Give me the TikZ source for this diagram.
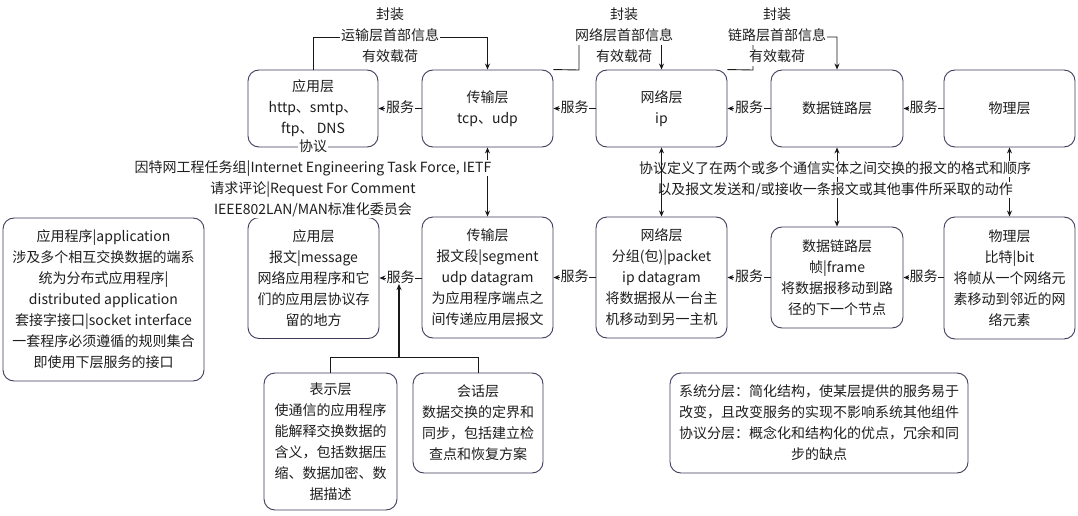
\documentclass[tikz,border=0pt]{standalone}
\usepackage{fontspec}
\setmainfont{Noto Sans CJK SC}
\usetikzlibrary{arrows.meta}
\definecolor{boxc}{RGB}{62,62,92}
\definecolor{txt}{RGB}{30,30,30}
\definecolor{linec}{RGB}{25,25,25}
\newcommand\myfs{\fontsize{14}{21}\selectfont}
\begin{document}
\begin{tikzpicture}[x=1pt,y=-1pt,
  box/.style={draw=boxc, line width=0.9pt, rounded corners=11pt, align=center, inner sep=0pt, text=txt, font=\myfs},
  lbl/.style={fill=white, inner sep=0.6pt, text=txt, font=\myfs, text height=11pt, text depth=3pt},
  conn/.style={draw=linec, line width=0.9pt},
  >={Stealth[length=6pt,width=5pt]}]
\fill[white] (0,0) rectangle (1078,516);
\useasboundingbox (0,0) rectangle (1078,516);

% top row
\node[box, minimum width=130pt, minimum height=77pt] (A1) at (313,108.5) {应用层\\http、smtp、\\ftp、 DNS};
\node[box, minimum width=131pt, minimum height=77pt] (T1) at (487.5,108.5) {传输层\\tcp、udp};
\node[box, minimum width=131pt, minimum height=77pt] (N1) at (661.5,108.5) {网络层\\ip};
\node[box, minimum width=132pt, minimum height=77pt] (D1) at (837,108.5) {数据链路层};
\node[box, minimum width=131pt, minimum height=77pt] (P1) at (1009.5,108.5) {物理层};

% bottom row
\node[box, minimum width=201pt, minimum height=163pt] (AP) at (103.5,299.5) {应用程序|application\\涉及多个相互交换数据的端系\\统为分布式应用程序|\\distributed application\\套接字接口|socket interface\\一套程序必须遵循的规则集合\\即使用下层服务的接口};
\node[box, minimum width=131pt, minimum height=121pt] (A2) at (313.5,278) {应用层\\报文|message\\网络应用程序和它\\们的应用层协议存\\留的地方};
\node[box, minimum width=131pt, minimum height=121pt] (T2) at (487.5,277.5) {传输层\\报文段|segment\\udp datagram\\为应用程序端点之\\间传递应用层报文};
\node[box, minimum width=131pt, minimum height=121pt] (N2) at (661.5,277.5) {网络层\\分组(包)|packet\\ip datagram\\将数据报从一台主\\机移动到另一主机};
\node[box, minimum width=132pt, minimum height=101pt] (D2) at (837,277.5) {数据链路层\\帧|frame\\将数据报移动到路\\径的下一个节点};
\node[box, minimum width=131pt, minimum height=122pt] (P2) at (1009.5,278) {物理层\\比特|bit\\将帧从一个网络元\\素移动到邻近的网\\络元素};
\node[box, minimum width=133pt, minimum height=137pt] (S1) at (330.5,441.5) {表示层\\使通信的应用程序\\能解释交换数据的\\含义，包括数据压\\缩、数据加密、数\\据描述};
\node[box, minimum width=130pt, minimum height=100pt] (S2) at (478,423) {会话层\\数据交换的定界和\\同步，包括建立检\\查点和恢复方案};
\node[box, minimum width=298pt, minimum height=100pt] (SY) at (819,423) {系统分层：简化结构，使某层提供的服务易于\\改变，且改变服务的实现不影响系统其他组件\\协议分层：概念化和结构化的优点，冗余和同\\步的缺点};

% service connectors
\draw[conn,->] (T1.west) -- node[lbl] (s1) {服务} (A1.east);
\draw[conn,->] (N1.west) -- node[lbl] (s2) {服务} (T1.east);
\draw[conn,->] (D1.west) -- node[lbl] (s3) {服务} (N1.east);
\draw[conn,->] (P1.west) -- node[lbl] (s4) {服务} (D1.east);
\draw[conn,->] (T2.west |- 0,278) -- node[lbl] (s5) {服务} (A2.east |- 0,278);
\draw[conn,->] (N2.west) -- node[lbl] (s6) {服务} (T2.east);
\draw[conn,->] (D2.west) -- node[lbl] (s7) {服务} (N2.east);
\draw[conn,->] (P2.west |- 0,277.5) -- node[lbl] (s8) {服务} (D2.east);

% branch to presentation / session layers
\coordinate (bj) at (399,357);
\coordinate (bt) at (399,284);
\draw[conn] (S1.north) |- (bj);
\draw[conn] (S2.north) |- (bj);
\draw[conn,line width=1.7pt,->] (bj) -- (bt);

% vertical links
\draw[conn,<->] (T1.south) -- (T2.north);
\draw[conn,<->] (D1.south) -- (D2.north);
\draw[conn,<->] (P1.south) -- (P2.north);

% encapsulation connectors
\coordinate (e1) at (487.5,37);
\draw[conn,->] (A1.north) |- (e1) -- (T1.north);
\coordinate (e2a) at (579,70);
\coordinate (e2b) at (579,37);
\coordinate (e2c) at (661.5,37);
\draw[conn,->] (T1.north east) -- (e2a) -- (e2b) -- (e2c) -- (N1.north);
\coordinate (e3a) at (753,70);
\coordinate (e3b) at (753,37);
\coordinate (e3c) at (837,37);
\draw[conn,->] (N1.north east) -- (e3a) -- (e3b) -- (e3c) -- (D1.north);

% encapsulation labels
\node[lbl] (f1a) at (390,16) {封装};
\node[lbl] (f1b) at (390,37) {运输层首部信息};
\node[lbl] (f1c) at (390,58) {有效载荷};
\node[lbl] (f2a) at (624,16) {封装};
\node[lbl] (f2b) at (624,37) {网络层首部信息};
\node[lbl] (f2c) at (624,58) {有效载荷};
\node[lbl] (f3a) at (777,16) {封装};
\node[lbl] (f3b) at (777,37) {链路层首部信息};
\node[lbl] (f3c) at (777,58) {有效载荷};

% protocol labels
\node[lbl] (p1) at (313,147) {协议};
\node[lbl] (p2) at (313,168) {因特网工程任务组|Internet Engineering Task Force, IETF};
\node[lbl] (p3) at (313,189) {请求评论|Request For Comment};
\node[lbl] (p4) at (313,210) {IEEE802LAN/MAN标准化委员会};
\node[lbl] (q1) at (835,169) {协议定义了在两个或多个通信实体之间交换的报文的格式和顺序};
\node[lbl] (q2) at (835,190) {以及报文发送和/或接收一条报文或其他事件所采取的动作};

\draw[conn,<->] (N1.south) -- (N2.north);
\end{tikzpicture}
\end{document}
